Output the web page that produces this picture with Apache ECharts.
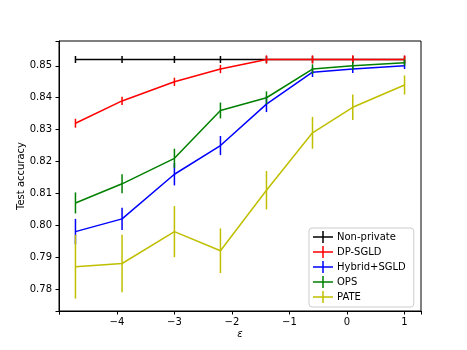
<!DOCTYPE html>
<html>
<head>
<meta charset="utf-8">
<script src="https://cdn.jsdelivr.net/npm/echarts@6/dist/echarts.min.js"></script>
<style>
  html, body { margin: 0; padding: 0; background: #fff; }
  #chart { width: 467px; height: 350px; }
</style>
</head>
<body>
<div id="chart"></div>
<script>
// epsilon values (x axis)
const eps = [-4.72, -3.91, -3.0, -2.2, -1.4, -0.6, 0.1, 1.0]

const names = ['Non-private', 'DP-SGLD', 'Hybrid+SGLD', 'OPS', 'PATE']
const colors = ['#000000', '#ff0000', '#0000ff', '#008000', '#bfbf00']

// mean test accuracy
const nonPrivate = [0.852, 0.852, 0.852, 0.852, 0.852, 0.852, 0.852, 0.852]
const dpSgld = [0.832, 0.839, 0.845, 0.849, 0.852, 0.852, 0.852, 0.852]
const hybridSgld = [0.798, 0.802, 0.816, 0.825, 0.838, 0.848, 0.849, 0.850]
const ops = [0.807, 0.813, 0.821, 0.836, 0.840, 0.849, 0.850, 0.851]
const pate = [0.787, 0.788, 0.798, 0.792, 0.811, 0.829, 0.837, 0.844]

// half-width of error bars
const nonPrivateErr = [0.0011, 0.0011, 0.0011, 0.0011, 0.0011, 0.0011, 0.0011, 0.0011]
const dpSgldErr = [0.0014, 0.0013, 0.0013, 0.0013, 0.0013, 0.0013, 0.0013, 0.0013]
const hybridSgldErr = [0.004, 0.0035, 0.0035, 0.003, 0.0025, 0.0015, 0.0012, 0.001]
const opsErr = [0.0033, 0.003, 0.003, 0.0025, 0.002, 0.0015, 0.0012, 0.001]
const pateErr = [0.01, 0.009, 0.008, 0.007, 0.006, 0.005, 0.004, 0.003]

const means = [nonPrivate, dpSgld, hybridSgld, ops, pate]
const errs = [nonPrivateErr, dpSgldErr, hybridSgldErr, opsErr, pateErr]

const font = 'DejaVu Sans'
const plusIcon = 'path://M0,5.25 H20 V6.75 H0 Z M9.25,0 H10.75 V12 H9.25 Z'

const series = []
names.forEach(function(name, i) {
  series.push({
    name: name,
    type: 'line',
    data: eps.map((x, j) => [x, means[i][j]]),
    symbol: 'none',
    color: colors[i],
    lineStyle: { width: 1.5, color: colors[i] },
    z: 2 + i * 2
  })
  series.push({
    name: name,
    type: 'custom',
    data: eps.map((x, j) => [x, means[i][j] - errs[i][j], means[i][j] + errs[i][j]]),
    color: colors[i],
    z: 3 + i * 2,
    renderItem: function(params, api) {
      const lo = api.coord([api.value(0), api.value(1)])
      const hi = api.coord([api.value(0), api.value(2)])
      return {
        type: 'line',
        shape: { x1: lo[0], y1: lo[1], x2: hi[0], y2: hi[1] },
        style: { stroke: colors[i], lineWidth: 1.5 }
      }
    }
  })
})

const myChart = echarts.init(document.getElementById('chart'))
myChart.setOption({
  animation: false,
  textStyle: { fontFamily: font },
  grid: {
    left: 59, right: 46, top: 41, bottom: 39,
    show: true, borderColor: '#000', borderWidth: 1
  },
  legend: {
    orient: 'vertical',
    left: 309,
    top: 228,
    padding: [3, 8, 4, 4],
    itemGap: 3,
    itemWidth: 20,
    itemHeight: 12,
    icon: plusIcon,
    data: names,
    textStyle: { fontFamily: font, fontSize: 10, color: '#000', padding: [0, 0, 0, -1] },
    borderColor: '#cccccc',
    borderWidth: 1,
    borderRadius: 3,
    backgroundColor: 'rgba(255,255,255,0.8)',
    selectedMode: false
  },
  xAxis: {
    type: 'value',
    min: -5.006,
    max: 1.286,
    splitNumber: 6,
    name: 'ε',
    nameLocation: 'middle',
    nameGap: 18,
    nameMoveOverlap: false,
    nameTextStyle: { fontFamily: font, fontSize: 10, fontStyle: 'italic', color: '#000' },
    axisLine: { onZero: false, lineStyle: { color: '#000', width: 1 } },
    axisTick: { length: 3.5, lineStyle: { color: '#000' } },
    axisLabel: {
      fontSize: 10, color: '#000', margin: 6,
      formatter: function(v) {
        if (Math.abs(v - Math.round(v)) > 1e-6 || v < -4.5) return ''
        const r = Math.round(v)
        return r < 0 ? '\u2212' + Math.abs(r) : String(r)
      }
    },
    splitLine: { show: false }
  },
  yAxis: {
    type: 'value',
    min: 0.7731,
    max: 0.8578,
    splitNumber: 8,
    name: 'Test accuracy',
    nameLocation: 'middle',
    nameGap: 33,
    nameMoveOverlap: false,
    nameTextStyle: { fontFamily: font, fontSize: 10, color: '#000' },
    axisLine: { onZero: false, lineStyle: { color: '#000', width: 1 } },
    axisTick: { length: 3.5, lineStyle: { color: '#000' } },
    axisLabel: {
      fontSize: 10, color: '#000', margin: 7,
      formatter: function(v) {
        const k = v * 100
        if (Math.abs(k - Math.round(k)) > 1e-6) return ''
        return (Math.round(k) / 100).toFixed(2)
      }
    },
    splitLine: { show: false }
  },
  series: series
})
</script>
</body>
</html>
